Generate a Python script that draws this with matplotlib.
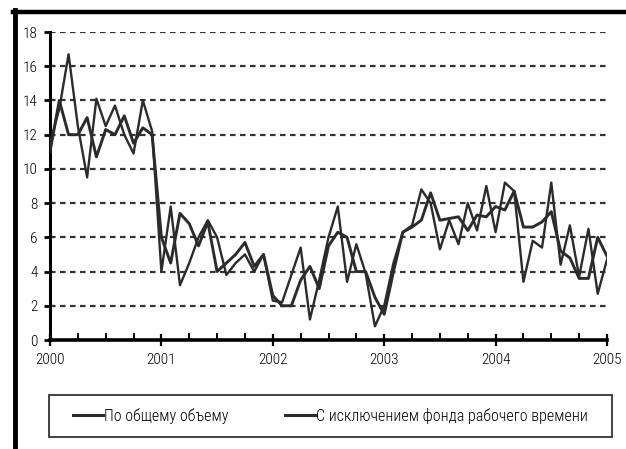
import matplotlib
matplotlib.use("Agg")
import matplotlib.pyplot as plt
from matplotlib.lines import Line2D
from matplotlib.patches import Rectangle
import numpy as np

plt.rcParams['font.family'] = ['Roboto Condensed', 'PT Sans Narrow', 'DejaVu Sans']
plt.rcParams['font.weight'] = 'light'

# Monthly values, January 2000 .. January 2005
total_volume = [
    11.0, 14.0, 12.0, 12.0, 13.0, 10.7, 12.3, 12.0, 13.1, 11.5, 12.4, 12.0,
    6.0, 4.5, 7.4, 6.8, 5.5, 6.9, 4.0, 4.5, 5.0, 5.7, 4.3, 5.0,
    2.6, 2.0, 2.0, 3.5, 4.3, 3.0, 5.5, 6.3, 6.0, 4.0, 4.0, 2.5,
    1.5, 4.0, 6.3, 6.6, 7.0, 8.6, 7.0, 7.1, 7.2, 6.4, 7.3, 7.2,
    7.8, 7.6, 8.7, 6.6, 6.6, 6.9, 7.5, 5.2, 4.8, 3.6, 3.6, 6.0,
    4.9,
]
excl_work_time = [
    11.5, 13.5, 16.7, 12.5, 9.5, 14.1, 12.5, 13.7, 12.0, 10.9, 14.0, 12.2,
    4.0, 7.8, 3.2, 4.5, 6.0, 7.0, 6.0, 3.8, 4.5, 5.0, 4.0, 5.0,
    2.3, 2.2, 3.8, 5.4, 1.2, 3.5, 6.0, 7.8, 3.4, 5.6, 3.9, 0.8,
    2.0, 4.5, 6.3, 6.7, 8.8, 8.0, 5.3, 7.0, 5.6, 8.0, 6.4, 9.0,
    6.3, 9.2, 8.7, 3.4, 5.8, 5.4, 9.2, 4.4, 6.7, 3.7, 6.5, 2.7,
    4.7,
]
series_labels = ["По общему объему", "С исключением фонда рабочего времени"]
year_labels = ["2000", "2001", "2002", "2003", "2004", "2005"]
y_ticks = [0, 2, 4, 6, 8, 10, 12, 14, 16, 18]

months = np.arange(len(total_volume))

W, H = 626, 449
fig = plt.figure(figsize=(W / 100, H / 100), dpi=100)
ax = fig.add_axes([50 / W, 1 - 340 / H, (607 - 50) / W, (340 - 32) / H])

line_color = "#2b2b2b"
ax.plot(months, total_volume, color=line_color, lw=2.1, solid_joinstyle="round",
        label=series_labels[0], zorder=3)
ax.plot(months, excl_work_time, color=line_color, lw=1.7, solid_joinstyle="round",
        label=series_labels[1], zorder=3)

ax.set_xlim(0, 60)
ax.set_ylim(0, 18)
ax.set_yticks(y_ticks)
ax.set_yticklabels([str(v) for v in y_ticks])
ax.set_xticks(np.arange(0, 61, 12))
ax.set_xticklabels(year_labels)
ax.set_xticks(np.arange(0, 61, 3), minor=True)

for v in y_ticks[1:]:
    ax.axhline(v, color="#333333", lw=1.6, ls=(0, (2.5, 2.0)), zorder=1)

for s in ["top", "right"]:
    ax.spines[s].set_visible(False)
ax.spines["left"].set_linewidth(2.2)
ax.spines["bottom"].set_linewidth(2.6)

fs = 11
ax.tick_params(axis="y", direction="out", length=4, width=2, labelsize=fs,
               pad=5, colors="black")
ax.tick_params(axis="x", which="major", direction="inout", length=9, width=1.6,
               labelsize=fs, pad=5)
ax.tick_params(axis="x", which="minor", direction="in", length=5, width=1.4)

# Boxed strip under the axes holding the legend
fig.add_artist(Rectangle((49 / W, 1 - 437 / H), (612 - 49) / W, 42 / H,
                         transform=fig.transFigure, fill=False,
                         edgecolor="#222222", lw=1.2))
leg = fig.legend(loc="center left", ncol=2,
                 bbox_to_anchor=(73 / W, 1 - 416 / H),
                 frameon=False, fontsize=11.5, borderpad=0,
                 handlelength=1.9, handletextpad=0.05,
                 borderaxespad=0, columnspacing=3.55)
for h in leg.get_lines():
    h.set_linewidth(2.2)

# Heavy frame lines along the left and top edges of the figure
fig.add_artist(Line2D([15 / W, 15 / W], [0, 1 - 10 / H], color="black", lw=3.5,
                      transform=fig.transFigure))
fig.add_artist(Line2D([13 / W, 1.0], [1 - 11.5 / H, 1 - 11.5 / H], color="black",
                      lw=3.2, transform=fig.transFigure))

fig.savefig("out.png", dpi=100, facecolor="white")
